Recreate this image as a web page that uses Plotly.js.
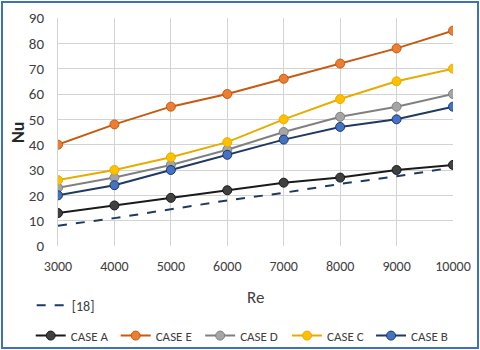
<!DOCTYPE html>
<html>
<head>
<meta charset="utf-8">
<script src="https://cdn.plot.ly/plotly-3.0.1.min.js"></script>
<style>
  body { margin: 0; padding: 0; background: #fff; }
  #wrap { position: relative; width: 480px; height: 350px; }
  #chart { width: 480px; height: 350px; }
  #frame { position: absolute; left: 1px; top: 1px; width: 478px; height: 348px;
           border: 2px solid #3f72b4; box-sizing: border-box; pointer-events: none; }
</style>
</head>
<body>
<div id="wrap">
  <div id="chart"></div>
  <div id="frame"></div>
</div>
<script>
// valores
const reynolds = [3000, 4000, 5000, 6000, 7000, 8000, 9000, 10000];
const caseA = [13, 16, 19, 22, 25, 27, 30, 32];
const caseE = [40, 48, 55, 60, 66, 72, 78, 85];
const caseD = [23, 27, 32, 38, 45, 51, 55, 60];
const caseC = [26, 30, 35, 41, 50, 58, 65, 70];
const caseB = [20, 24, 30, 36, 42, 47, 50, 55];
const ref18 = [8, 11, 14.5, 18, 21, 24.5, 27.5, 31];

const fontName = 'Carlito, Lato, "Open Sans", sans-serif';

// cada serie tem a sua propria legenda (posicao fixa, como no original)
function caseTrace(name, y, lineColor, markerColor, legendId) {
    return {
        x: reynolds,
        y: y,
        name: name,
        type: 'scatter',
        mode: 'lines+markers',
        line: { color: lineColor, width: 2 },
        marker: { color: markerColor, size: 9, line: { color: lineColor, width: 1 } },
        legend: legendId
    };
}

const data = [
    {
        x: reynolds,
        y: ref18,
        name: '[18]',
        type: 'scatter',
        mode: 'lines',
        line: { color: '#1f3864', width: 2, dash: 'dash' },
        legend: 'legend'
    },
    caseTrace('CASE A', caseA, '#1a1a1a', '#404040', 'legend2'),
    caseTrace('CASE E', caseE, '#c55a11', '#ed7d31', 'legend3'),
    caseTrace('CASE D', caseD, '#808080', '#a5a5a5', 'legend4'),
    caseTrace('CASE C', caseC, '#e6ac00', '#ffc000', 'legend5'),
    caseTrace('CASE B', caseB, '#1f3864', '#4472c4', 'legend6')
];

function legendAt(x, y, size) {
    return {
        x: x,
        y: y,
        xref: 'container',
        yref: 'container',
        xanchor: 'left',
        yanchor: 'middle',
        orientation: 'h',
        bgcolor: 'rgba(0,0,0,0)',
        font: { size: size, color: '#404040' },
        itemwidth: 30
    };
}

const layout = {
    width: 480,
    height: 350,
    margin: { l: 58, r: 27, t: 18, b: 104 },
    paper_bgcolor: '#ffffff',
    plot_bgcolor: '#ffffff',
    font: { family: fontName, color: '#404040', size: 13 },
    showlegend: true,
    xaxis: {
        range: [3000, 10000],
        dtick: 1000,
        tick0: 3000,
        tickformat: 'd',
        showgrid: true,
        gridcolor: '#d3d3d3',
        gridwidth: 1,
        zeroline: false,
        showline: false,
        ticks: '',
        ticklabelstandoff: 10,
        tickfont: { size: 14, color: '#404040' }
    },
    yaxis: {
        range: [0, 90],
        dtick: 10,
        showgrid: true,
        gridcolor: '#d3d3d3',
        gridwidth: 1,
        zeroline: false,
        showline: true,
        linecolor: '#d3d3d3',
        ticks: '',
        ticklabelstandoff: 10,
        tickfont: { size: 15, color: '#404040' }
    },
    annotations: [
        { text: 'Re', xref: 'paper', yref: 'paper', x: 0.5, y: -0.224,
          xanchor: 'center', yanchor: 'middle', showarrow: false,
          font: { size: 17, color: '#404040' } },
        { text: '<b>Nu</b>', xref: 'paper', yref: 'paper', x: -0.101, y: 0.5,
          xanchor: 'center', yanchor: 'middle', textangle: -90, showarrow: false,
          font: { size: 18, color: '#262626' } }
    ],
    legend: legendAt(0.066, 0.127, 14),
    legend2: legendAt(0.064, 0.041, 13),
    legend3: legendAt(0.241, 0.041, 13),
    legend4: legendAt(0.417, 0.041, 13),
    legend5: legendAt(0.598, 0.041, 13),
    legend6: legendAt(0.773, 0.041, 13)
};

Plotly.newPlot('chart', data, layout, { displayModeBar: false, staticPlot: true });
</script>
</body>
</html>
